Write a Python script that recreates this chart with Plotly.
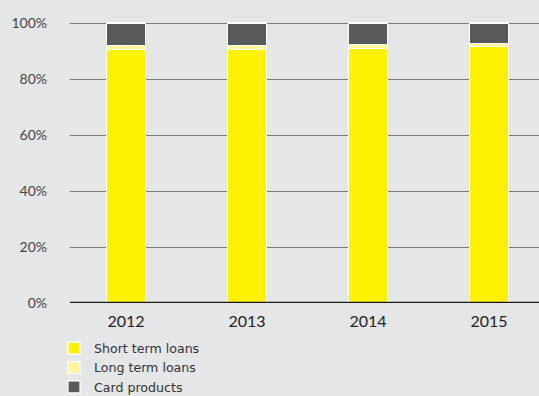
import plotly.graph_objects as go

years = ["2012", "2013", "2014", "2015"]
short_term = [90.5, 90.5, 91.0, 91.7]
long_term = [1.5, 1.5, 1.3, 1.0]
card_products = [8.0, 8.0, 7.7, 7.3]
y_ticks = [0, 20, 40, 60, 80, 100]
y_tick_labels = ["0%", "20%", "40%", "60%", "80%", "100%"]

series = [
    ("Short term loans", short_term, "#FFF200"),
    ("Long term loans", long_term, "#FFF59A"),
    ("Card products", card_products, "#58595B"),
]

fig = go.Figure()
for name, vals, color in series:
    fig.add_trace(go.Bar(
        x=years, y=vals, name=name,
        marker=dict(color=color, line=dict(color="white", width=1.2)),
        width=0.32,
    ))

bg = "#E5E6E7"
fig.update_layout(
    width=539, height=396,
    barmode="stack",
    paper_bgcolor=bg, plot_bgcolor=bg,
    margin=dict(l=70, r=0, t=20, b=93, autoexpand=False),
    font=dict(family="Lato, Open Sans, sans-serif", color="#333333", size=13),
    showlegend=True,
    legend=dict(
        orientation="v", traceorder="normal",
        xref="container", yref="container",
        x=54 / 539, xanchor="left", y=1 - 333.5 / 396, yanchor="top",
        font=dict(size=12.6, color="#333333", family="DejaVu Sans, sans-serif"),
        itemwidth=30, tracegroupgap=0, bgcolor="rgba(0,0,0,0)",
    ),
    xaxis=dict(
        type="category", range=[-0.463, 3.413],
        showgrid=False, zeroline=False,
        showline=False, ticks="", ticklabelstandoff=7,
        tickfont=dict(size=16, color="#222222", family="Lato, sans-serif"),
    ),
    yaxis=dict(
        range=[0, 101.07], tickvals=y_ticks, ticktext=y_tick_labels,
        showgrid=True, gridcolor="#7A7A7A", gridwidth=1,
        zeroline=False, showline=False, ticks="",
        ticklabelstandoff=22,
        tickfont=dict(size=14, color="#444444"),
    ),
)
fig.add_shape(type="line", xref="paper", yref="y", x0=0, x1=1, y0=0, y1=0,
              line=dict(color="#1A1A1A", width=2.5), layer="above")

fig.write_html("out.html")
